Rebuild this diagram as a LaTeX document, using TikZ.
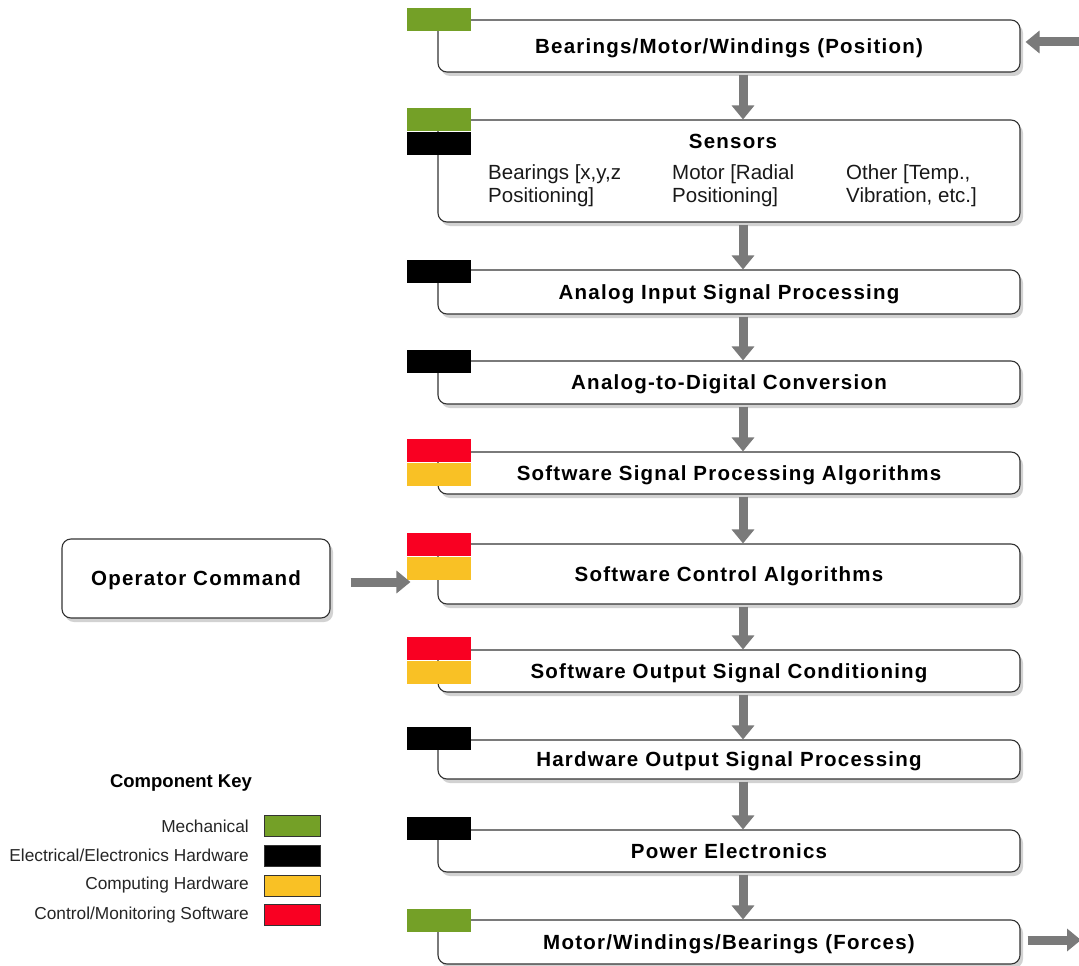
\documentclass[tikz,border=0pt]{standalone}
\usepackage{fontspec}
\setmainfont{Liberation Sans}
\newfontfamily\boxfont[LetterSpace=6]{Liberation Sans}
\usetikzlibrary{arrows.meta,shadows}
\definecolor{mech}{HTML}{74A027}
\definecolor{elec}{HTML}{000000}
\definecolor{comp}{HTML}{F9C125}
\definecolor{soft}{HTML}{F90022}
\definecolor{boxline}{HTML}{333333}
\definecolor{arrowgray}{HTML}{7A7A7A}
\begin{document}
\begin{tikzpicture}[x=1pt,y=-1pt,
  stage/.style={draw=boxline, line width=1.1pt, rounded corners=9pt, fill=white,
    minimum width=582pt, inner sep=0pt, text height=19pt, text depth=4.5pt,
    font=\boxfont\bfseries\fontsize{20.5}{24}\selectfont,
    drop shadow={shadow xshift=3pt, shadow yshift=-4pt, opacity=0.35}},
  tag/.style={minimum width=64pt, minimum height=23.5pt, inner sep=0pt, anchor=north west},
  flow/.style={draw=arrowgray, line width=9pt, -{Triangle[width=22pt,length=14pt]}},
  keytext/.style={anchor=east, inner sep=0pt, font=\fontsize{17.3}{20}\selectfont, text=black!85},
  swatch/.style={draw=black!80, line width=0.8pt, minimum width=56pt, minimum height=21pt, inner sep=0pt},
  subtext/.style={anchor=north west, align=left, inner sep=0pt, font=\fontsize{20.5}{23.5}\selectfont, text=black!90}
]
\clip (0,0) rectangle (1079,966);
\fill[white] (0,0) rectangle (1079,966);

% stages
\node[stage, minimum height=52pt] (b1) at (729,46) {Bearings/Motor/Windings (Position)};
\node[stage, minimum height=102pt] (b2) at (729,171) {};
\node[stage, minimum height=44pt] (b3) at (729,292) {Analog Input Signal Processing};
\node[stage, minimum height=43pt] (b4) at (729,382.5) {Analog-to-Digital Conversion};
\node[stage, minimum height=42pt] (b5) at (729,473) {Software Signal Processing Algorithms};
\node[stage, minimum height=60pt] (b6) at (729,574) {Software Control Algorithms};
\node[stage, minimum height=42pt] (b7) at (729,671) {Software Output Signal Conditioning};
\node[stage, minimum height=39pt] (b8) at (729,759.5) {Hardware Output Signal Processing};
\node[stage, minimum height=42pt] (b9) at (729,851) {Power Electronics};
\node[stage, minimum height=44pt] (b10) at (729,942) {Motor/Windings/Bearings (Forces)};

% sensors contents
\node[font=\boxfont\bfseries\fontsize{20.5}{24}\selectfont, inner sep=0pt] (sT) at (733,141) {Sensors};
\node[subtext] (s1) at (488,164) {Bearings [x,y,z\\Positioning]};
\node[subtext] (s2) at (672,164) {Motor [Radial\\Positioning]};
\node[subtext] (s3) at (846,164) {Other [Temp.,\\Vibration, etc.]};

% tags
\node[tag, fill=mech] (t1) at ([shift={(-31,-12)}]b1.north west) {};
\node[tag, fill=mech] (t2a) at ([shift={(-31,-12)}]b2.north west) {};
\node[tag, fill=elec] (t2b) at (t2a.south west) {};
\node[tag, fill=elec] (t3) at ([shift={(-31,-10)}]b3.north west) {};
\node[tag, fill=elec] (t4) at ([shift={(-31,-11)}]b4.north west) {};
\node[tag, fill=soft] (t5a) at ([shift={(-31,-13)}]b5.north west) {};
\node[tag, fill=comp] (t5b) at (t5a.south west) {};
\node[tag, fill=soft] (t6a) at ([shift={(-31,-11)}]b6.north west) {};
\node[tag, fill=comp] (t6b) at (t6a.south west) {};
\node[tag, fill=soft] (t7a) at ([shift={(-31,-13)}]b7.north west) {};
\node[tag, fill=comp] (t7b) at (t7a.south west) {};
\node[tag, fill=elec] (t8) at ([shift={(-31,-13)}]b8.north west) {};
\node[tag, fill=elec] (t9) at ([shift={(-31,-13)}]b9.north west) {};
\node[tag, fill=mech] (t10) at ([shift={(-31,-11)}]b10.north west) {};

% operator command
\node[stage, minimum width=268pt, minimum height=79pt] (op) at (196,578.5) {Operator Command};

% flow arrows
\draw[flow] ([xshift=14pt,yshift=-2pt]b1.south) -- ([xshift=14pt]b2.north);
\draw[flow] ([xshift=14pt,yshift=-2pt]b2.south) -- ([xshift=14pt]b3.north);
\draw[flow] ([xshift=14pt,yshift=-2pt]b3.south) -- ([xshift=14pt]b4.north);
\draw[flow] ([xshift=14pt,yshift=-2pt]b4.south) -- ([xshift=14pt]b5.north);
\draw[flow] ([xshift=14pt,yshift=-2pt]b5.south) -- ([xshift=14pt]b6.north);
\draw[flow] ([xshift=14pt,yshift=-2pt]b6.south) -- ([xshift=14pt]b7.north);
\draw[flow] ([xshift=14pt,yshift=-2pt]b7.south) -- ([xshift=14pt]b8.north);
\draw[flow] ([xshift=14pt,yshift=-2pt]b8.south) -- ([xshift=14pt]b9.north);
\draw[flow] ([xshift=14pt,yshift=-2pt]b9.south) -- ([xshift=14pt]b10.north);

\coordinate (opOut) at ([yshift=-3.5pt]op.east);
\coordinate (opIn) at (opOut -| t6b.west);
\draw[flow] ([xshift=20pt]opOut) -- ([xshift=4pt]opIn);

\coordinate (inTail) at (1085,42);
\coordinate (outTip) at (1081,940);
\draw[flow] (inTail) -- ([xshift=5pt,yshift=4pt]b1.east);
\draw[flow] ([xshift=7pt,yshift=2pt]b10.east) -- (outTip);

% key
\node[font=\bfseries\fontsize{18.5}{22}\selectfont, inner sep=0pt] (kt) at (181,783) {Component Key};
\node[swatch, fill=mech] (k1) at (292,826) {};
\node[swatch, fill=elec] (k2) at (292,855.5) {};
\node[swatch, fill=comp] (k3) at (292,885.5) {};
\node[swatch, fill=soft] (k4) at (292,915) {};
\node[keytext] (l1) at (249,826) {Mechanical};
\node[keytext] (l2) at (249,855.5) {Electrical/Electronics Hardware};
\node[keytext] (l3) at (249,885.5) {Computing Hardware};
\node[keytext] (l4) at (249,915) {Control/Monitoring Software};
\end{tikzpicture}
\end{document}
